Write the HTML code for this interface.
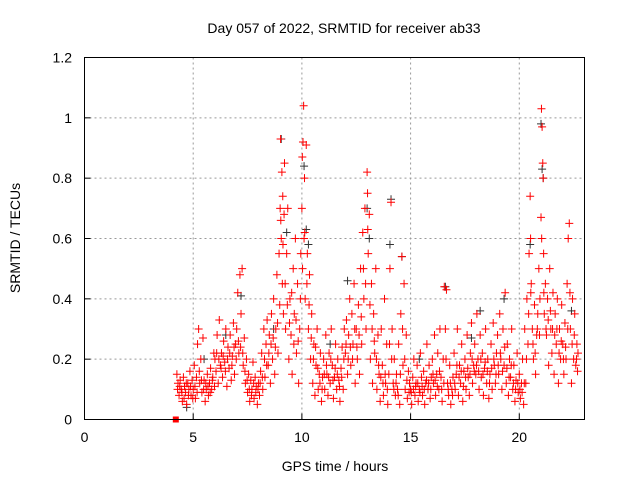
<!DOCTYPE html>
<html><head><meta charset="utf-8"><style>
body{margin:0;background:#fff}
svg{display:block;font-family:"Liberation Sans",sans-serif}
</style></head><body>
<svg id="chart" width="640" height="480">
<text x="344" y="33" font-size="14" text-anchor="middle">Day 057 of 2022, SRMTID for receiver ab33</text>
<text x="335" y="471" font-size="14" text-anchor="middle">GPS time / hours</text>
<text transform="translate(20,238) rotate(-90)" font-size="14" text-anchor="middle">SRMTID / TECUs</text>
<g id="grid"></g><g id="ticks"></g><g id="marks"></g>
<rect x="84.5" y="57.5" width="500" height="362" fill="none" stroke="#000"/>
</svg>
<script>
const xTicks=[0,5,10,15,20];
const yTicks=[0,0.2,0.4,0.6,0.8,1,1.2];
const yTickLabels=["0","0.2","0.4","0.6","0.8","1","1.2"];
const redData=[[4.25,.15],[4.3,.12],[4.35,.08],[4.4,.13],[4.45,.1],[4.5,.06],[4.55,.14],[4.6,.11],[4.65,.09],[4.7,.05],[4.75,.12],[4.8,.1],[4.85,.16],[4.9,.08],[4.95,.13],
[5.0,.1],[5.05,.18],[5.1,.07],[5.15,.14],[5.2,.25],[5.25,.3],[5.3,.12],[5.35,.2],[5.4,.09],[5.45,.27],[5.5,.13],[5.55,.06],[5.6,.1],[5.65,.15],[5.7,.08],[5.75,.12],[5.8,.17],[5.85,.1],[5.9,.14],[5.95,.22],
[6.0,.2],[6.05,.16],[6.1,.28],[6.15,.12],[6.2,.33],[6.25,.18],[6.3,.22],[6.35,.14],[6.4,.26],[6.45,.19],[6.5,.3],[6.55,.11],[6.6,.24],[6.65,.17],[6.7,.28],[6.75,.13],[6.8,.21],[6.85,.32],[6.9,.15],[6.95,.25],
[7.0,.3],[7.05,.42],[7.1,.22],[7.15,.48],[7.2,.35],[7.25,.5],[7.3,.18],[7.35,.27],[7.4,.12],[7.45,.2],[7.5,.09],[7.55,.15],[7.6,.06],[7.65,.13],[7.7,.1],[7.75,.19],[7.8,.07],[7.85,.14],[7.9,.11],[7.95,.05],
[8.0,.12],[8.05,.08],[8.1,.16],[8.15,.22],[8.2,.1],[8.25,.3],[8.3,.14],[8.35,.25],[8.4,.33],[8.45,.18],[8.5,.28],[8.55,.12],[8.6,.35],[8.65,.2],[8.7,.4],[8.75,.15],[8.8,.3],[8.85,.48],[8.9,.22],[8.95,.55],
[9.0,.7],[9.02,.93],[9.05,.6],[9.08,.82],[9.1,.45],[9.12,.74],[9.15,.35],[9.18,.68],[9.2,.85],[9.25,.3],[9.3,.55],[9.35,.7],[9.4,.2],[9.45,.4],[9.5,.28],[9.55,.15],[9.6,.5],[9.65,.35],[9.7,.6],[9.75,.22],[9.8,.45],[9.85,.12],[9.9,.3],[9.95,.55],
[10.0,.7],[10.02,.87],[10.05,.92],[10.08,1.04],[10.1,.6],[10.12,.8],[10.15,.4],[10.2,.91],[10.25,.55],[10.3,.3],[10.35,.48],[10.4,.2],[10.45,.35],[10.5,.12],[10.55,.25],[10.6,.08],[10.65,.18],[10.7,.3],[10.75,.1],[10.8,.15],[10.85,.22],[10.9,.06],[10.95,.14],
[11.0,.2],[11.05,.1],[11.1,.28],[11.15,.15],[11.2,.08],[11.25,.22],[11.3,.12],[11.35,.3],[11.4,.18],[11.45,.07],[11.5,.14],[11.55,.25],[11.6,.1],[11.65,.2],[11.7,.13],[11.75,.06],[11.8,.17],[11.85,.24],[11.9,.1],[11.95,.3],
[12.0,.22],[12.05,.33],[12.1,.15],[12.15,.28],[12.2,.4],[12.25,.18],[12.3,.35],[12.35,.25],[12.4,.45],[12.45,.12],[12.5,.3],[12.55,.2],[12.6,.38],[12.65,.15],[12.7,.5],[12.75,.25],[12.8,.62],[12.85,.4],[12.9,.7],[12.95,.3],
[13.0,.82],[13.02,.75],[13.05,.55],[13.1,.68],[13.15,.2],[13.2,.45],[13.25,.12],[13.3,.35],[13.35,.22],[13.4,.5],[13.45,.1],[13.5,.28],[13.55,.15],[13.6,.06],[13.65,.3],[13.7,.18],[13.75,.08],[13.8,.4],[13.85,.12],[13.9,.25],[13.95,.05],
[14.0,.15],[14.05,.5],[14.1,.72],[14.15,.3],[14.2,.12],[14.25,.2],[14.3,.08],[14.35,.15],[14.4,.1],[14.45,.25],[14.5,.05],[14.55,.35],[14.6,.54],[14.65,.18],[14.7,.45],[14.75,.1],[14.8,.28],[14.85,.07],[14.9,.16],[14.95,.12],
[15.0,.1],[15.05,.05],[15.1,.14],[15.15,.2],[15.2,.08],[15.25,.12],[15.3,.18],[15.35,.06],[15.4,.1],[15.45,.22],[15.5,.14],[15.55,.08],[15.6,.16],[15.65,.05],[15.7,.12],[15.75,.25],[15.8,.1],[15.85,.18],[15.9,.07],[15.95,.14],
[16.0,.2],[16.05,.12],[16.1,.28],[16.15,.08],[16.2,.15],[16.25,.22],[16.3,.1],[16.35,.3],[16.4,.14],[16.45,.06],[16.5,.2],[16.55,.44],[16.6,.3],[16.65,.43],[16.7,.12],[16.75,.08],[16.8,.18],[16.85,.05],[16.9,.1],[16.95,.14],
[17.0,.22],[17.05,.1],[17.1,.15],[17.15,.3],[17.2,.08],[17.25,.18],[17.3,.12],[17.35,.25],[17.4,.06],[17.45,.16],[17.5,.2],[17.55,.1],[17.6,.28],[17.65,.14],[17.7,.08],[17.75,.22],[17.8,.32],[17.85,.12],[17.9,.18],[17.95,.25],
[18.0,.15],[18.05,.35],[18.1,.2],[18.15,.1],[18.2,.28],[18.25,.14],[18.3,.22],[18.35,.08],[18.4,.17],[18.45,.3],[18.5,.12],[18.55,.2],[18.6,.07],[18.65,.15],[18.7,.25],[18.75,.1],[18.8,.32],[18.85,.18],[18.9,.12],[18.95,.22],
[19.0,.28],[19.05,.15],[19.1,.35],[19.15,.2],[19.2,.1],[19.25,.3],[19.3,.18],[19.35,.42],[19.4,.12],[19.45,.25],[19.5,.08],[19.55,.2],[19.6,.14],[19.65,.3],[19.7,.1],[19.75,.18],[19.8,.06],[19.85,.13],[19.9,.22],[19.95,.09],
[20.0,.15],[20.05,.07],[20.1,.12],[20.15,.2],[20.2,.05],[20.25,.3],[20.3,.12],[20.35,.4],[20.4,.25],[20.45,.55],[20.5,.74],[20.52,.6],[20.55,.45],[20.6,.3],[20.65,.2],[20.7,.38],[20.75,.15],[20.8,.28],[20.85,.35],[20.9,.5],[20.95,.4],
[21.0,.67],[21.02,1.03],[21.05,.97],[21.08,.85],[21.1,.8],[21.12,.55],[21.15,.35],[21.2,.45],[21.25,.28],[21.3,.4],[21.35,.18],[21.4,.5],[21.45,.3],[21.5,.22],[21.55,.42],[21.6,.15],[21.65,.35],[21.7,.25],[21.75,.4],[21.8,.12],[21.85,.3],[21.9,.2],[21.95,.38],
[22.0,.25],[22.05,.15],[22.1,.32],[22.15,.2],[22.2,.45],[22.25,.6],[22.3,.65],[22.35,.3],[22.4,.12],[22.45,.4],[22.5,.2],[22.55,.35],[22.6,.18],[22.65,.25],[22.7,.22]];
const redData2=[[4.28,.1],[4.38,.11],[4.48,.09],[4.58,.07],[4.68,.12],[4.78,.08],[4.88,.11],[4.98,.07],
[5.08,.11],[5.18,.09],[5.28,.16],[5.38,.13],[5.48,.1],[5.58,.12],[5.68,.11],[5.78,.09],[5.88,.13],[5.98,.11],
[6.08,.22],[6.18,.2],[6.28,.17],[6.38,.21],[6.48,.16],[6.58,.2],[6.68,.22],[6.78,.18],[6.88,.24],[6.98,.2],
[7.08,.26],[7.18,.24],[7.28,.22],[7.38,.16],[7.48,.13],[7.58,.1],[7.68,.08],[7.78,.12],[7.88,.09],[7.98,.1],
[8.08,.12],[8.18,.14],[8.28,.2],[8.38,.18],[8.48,.22],[8.58,.25],[8.68,.27],[8.78,.24],[8.88,.32],[8.98,.38],
[9.03,.66],[9.13,.58],[9.23,.45],[9.33,.38],[9.43,.32],[9.53,.42],[9.63,.25],[9.73,.33],[9.83,.26],[9.93,.4],
[10.03,.5],[10.13,.62],[10.23,.45],[10.33,.38],[10.43,.27],[10.53,.2],[10.63,.24],[10.73,.17],[10.83,.12],[10.93,.1],
[11.03,.15],[11.13,.18],[11.23,.14],[11.33,.2],[11.43,.13],[11.53,.17],[11.63,.15],[11.73,.11],[11.83,.14],[11.93,.2],
[12.03,.25],[12.13,.2],[12.23,.24],[12.33,.2],[12.43,.3],[12.53,.24],[12.63,.28],[12.73,.34],[12.83,.5],[12.93,.45],
[13.03,.63],[13.13,.38],[13.23,.3],[13.33,.26],[13.43,.2],[13.53,.18],[13.63,.14],[13.73,.12],[13.83,.15],[13.93,.1],
[14.03,.25],[14.13,.2],[14.23,.1],[14.33,.12],[14.43,.08],[14.53,.15],[14.63,.3],[14.73,.2],[14.83,.13],[14.93,.09],
[15.03,.09],[15.13,.1],[15.23,.11],[15.33,.12],[15.43,.09],[15.53,.11],[15.63,.1],[15.73,.13],[15.83,.12],[15.93,.1],
[16.03,.15],[16.13,.13],[16.23,.11],[16.33,.16],[16.43,.1],[16.53,.12],[16.63,.2],[16.73,.1],[16.83,.12],[16.93,.08],
[17.03,.12],[17.13,.18],[17.23,.14],[17.33,.16],[17.43,.11],[17.53,.14],[17.63,.17],[17.73,.15],[17.83,.2],[17.93,.16],
[18.03,.18],[18.13,.16],[18.23,.2],[18.33,.15],[18.43,.19],[18.53,.16],[18.63,.12],[18.73,.17],[18.83,.2],[18.93,.15],
[19.03,.18],[19.13,.22],[19.23,.16],[19.33,.24],[19.43,.17],[19.53,.14],[19.63,.18],[19.73,.12],[19.83,.1],[19.93,.12],
[20.03,.1],[20.13,.09],[20.23,.12],[20.33,.2],[20.43,.35],[20.53,.42],[20.63,.25],[20.73,.22],[20.83,.3],[20.93,.28],
[21.03,.6],[21.13,.42],[21.23,.3],[21.33,.33],[21.43,.36],[21.53,.3],[21.63,.28],[21.73,.3],[21.83,.22],[21.93,.26],
[22.03,.2],[22.13,.24],[22.23,.3],[22.33,.42],[22.43,.25],[22.53,.28],[22.63,.2],[22.68,.16]];
const blackData=[[7.2,.41],[9.05,.93],[9.3,.62],[10.1,.84],[10.2,.63],[10.3,.58],[12.1,.46],[13.0,.7],[13.1,.6],[14.1,.73],[14.05,.58],[14.6,.54],[16.6,.44],[18.2,.36],[19.3,.4],[20.5,.58],[21.0,.98],[21.05,.83],[21.1,.8],[22.4,.36],[8.7,.3],[11.3,.25],[15.4,.2],[17.8,.27],[6.5,.28],[5.5,.2],[4.7,.04]];
const squareData=[[4.2,0]];
const X0=84.5,X1=584.5,XMIN=0,XMAX=23,Y0=419.5,Y1=57.5,YMIN=0,YMAX=1.2;
function sx(t){return X0+(t-XMIN)/(XMAX-XMIN)*(X1-X0);}
function sy(v){return Y0-(v-YMIN)/(YMAX-YMIN)*(Y0-Y1);}
const NS='http://www.w3.org/2000/svg';
function mk(tag,attrs,parent){const e=document.createElementNS(NS,tag);for(const k in attrs)e.setAttribute(k,attrs[k]);document.getElementById(parent).appendChild(e);return e;}
xTicks.forEach(t=>{
  const x=sx(t);
  if(t>XMIN){const g=mk('line',{x1:x,x2:x,y1:Y0,y2:Y1,stroke:'#999','stroke-dasharray':'2,3'},'grid');
  
  }
  const tk=mk('line',{x1:x,x2:x,y1:Y0,y2:Y0-6,stroke:'#000'},'ticks');
  
  
  const lb=mk('text',{x:x,y:442,'font-size':14,'text-anchor':'middle'},'ticks');lb.textContent=String(t);
  
  
});
yTicks.forEach((v,i)=>{
  const y=sy(v);
  if(v>YMIN&&v<YMAX){const g=mk('line',{x1:X0,x2:X1,y1:y,y2:y,stroke:'#999','stroke-dasharray':'2,3'},'grid');
  
  }
  const tk=mk('line',{x1:X0,x2:X0+6,y1:y,y2:y,stroke:'#000'},'ticks');
  
  
  const lb=mk('text',{x:72,y:y+5,'font-size':14,'text-anchor':'end'},'ticks');lb.textContent=yTickLabels[i];
  
  
});
function plus(d,color,name){
  const x=sx(d[0]),y=sy(d[1]);
  const p=mk('path',{d:`M${x-4} ${y}H${x+4}M${x} ${y-4}V${y+4}`,stroke:color,'stroke-width':1,fill:'none'},'marks');
  
  
}
blackData.forEach(d=>plus(d,'#333','black-point'));
redData.forEach(d=>plus(d,'#f00','red-point'));
redData2.forEach(d=>plus(d,'#f00','red-point'));
squareData.forEach(d=>{
  const r=mk('rect',{x:sx(d[0])-3,y:sy(d[1])-3,width:6,height:6,fill:'#f00'},'marks');
  
  
});
</script>
</body></html>
